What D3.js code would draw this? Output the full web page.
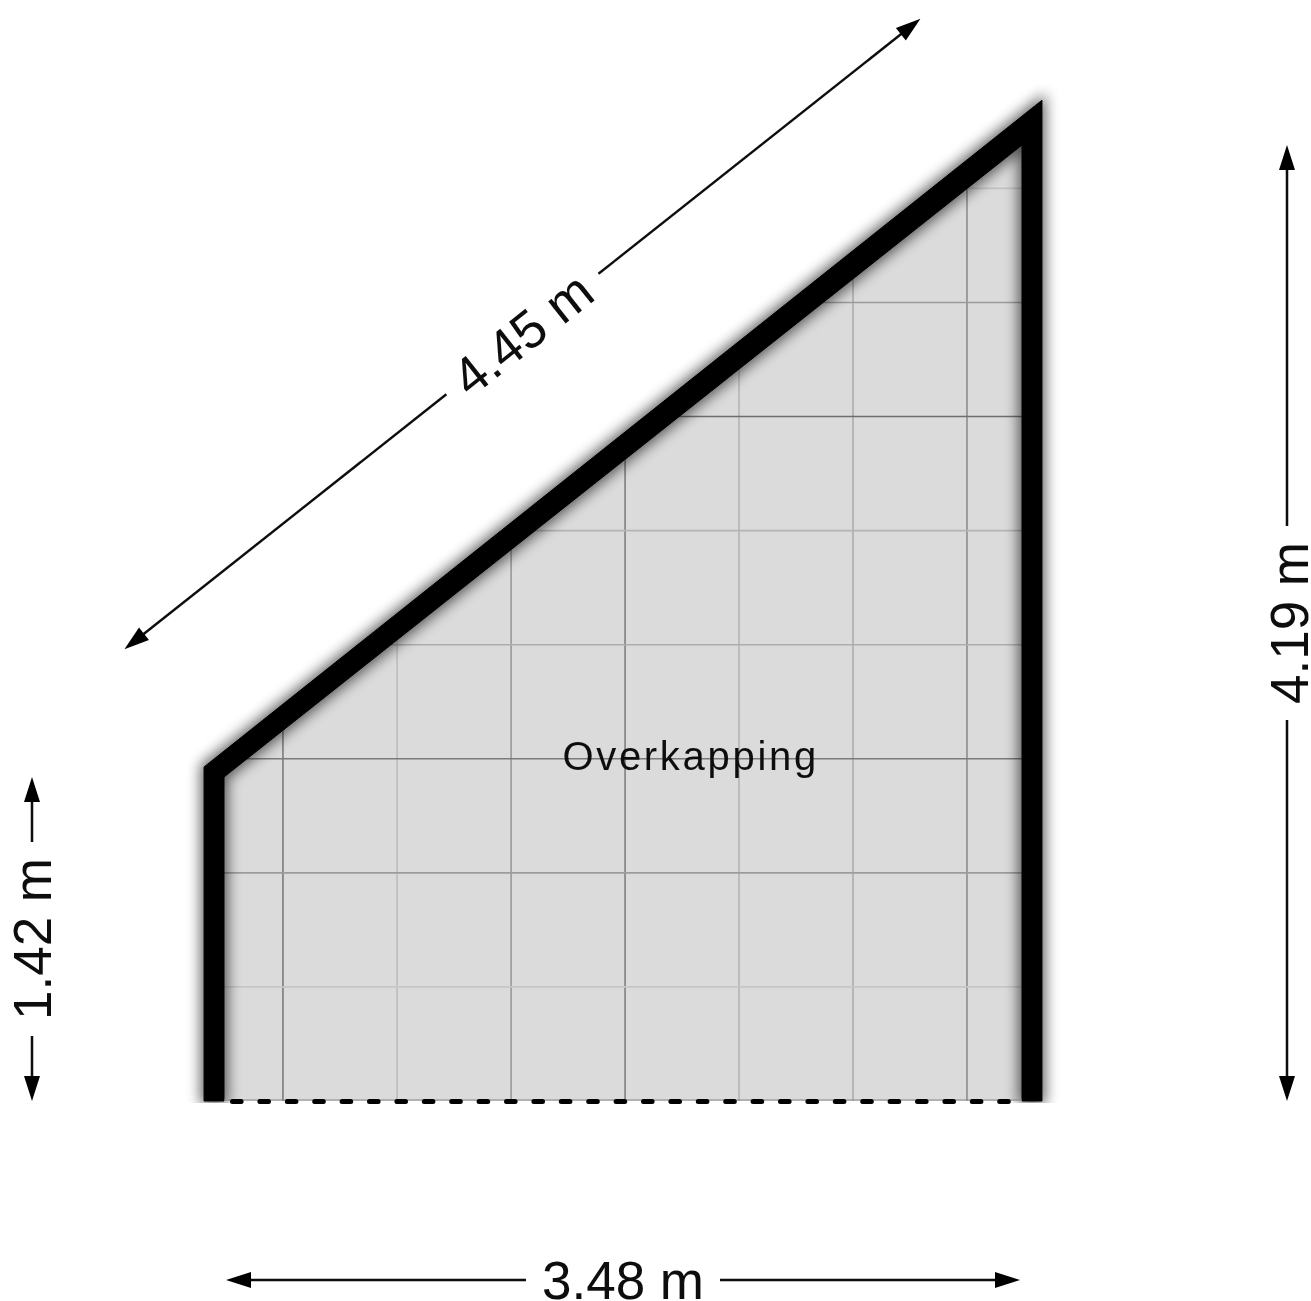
<!DOCTYPE html>
<html>
<head>
  <meta charset="utf-8">
  <script src="https://d3js.org/d3.v7.min.js"></script>
  <style>
    html, body { margin: 0; padding: 0; background: #fff; overflow: hidden; }
    text { font-family: "Liberation Sans", Arial, sans-serif; fill: #111; }
  </style>
</head>
<body>
  <div id="plan"></div>
  <script>
    // plan values, all in metres
    const roomWidth = 3.48;
    const lowHeight = 1.42;
    const highHeight = 4.19;
    const slopeLength = 4.45;
    const roomName = "Overkapping";
    const gridX = [0.257, 0.755, 1.252, 1.749, 2.246, 2.743, 3.24];
    const gridY = [0.5, 1, 1.5, 2, 2.5, 3, 3.5, 4];
    const wallOuter = [[-0.087, 0], [-0.087, 1.464], [3.567, 4.386], [3.567, 0]];
    const wallInner = [[3.48, 0], [3.48, 4.19], [0, 1.42], [0, 0]];

    // line greys, the scan has them uneven
    const gridXColor = ["#7b7b7b", "#bcbcbc", "#999999", "#7f7f7f", "#b4b4b4", "#ababab", "#8c8c8c"];
    const gridYColor = ["#c6c6c6", "#9c9c9c", "#7a7a7a", "#adadad", "#b4b4b4", "#6e6e6e", "#9a9a9a", "#c2c2c2"];

    const width = 1311, height = 1301;

    const x = d3.scaleLinear().domain([0, roomWidth]).range([224, 1022]);
    const y = d3.scaleLinear().domain([0, highHeight]).range([1101, 145]);
    const pt = d => [x(d[0]), y(d[1])];
    const line = d3.line().x(d => x(d[0])).y(d => y(d[1]));

    const root = d3.select("#plan").append("svg")
      .attr("width", width)
      .attr("height", height)
      .style("display", "block");

    const defs = root.append("defs");
    defs.append("filter")
      .attr("id", "wallShadow")
      .attr("x", "-10%").attr("y", "-10%")
      .attr("width", "120%").attr("height", "120%")
      .append("feGaussianBlur")
      .attr("stdDeviation", 7);
    // the source is a slightly soft scan
    defs.append("filter")
      .attr("id", "soft")
      .attr("filterUnits", "userSpaceOnUse")
      .attr("x", 0).attr("y", 0)
      .attr("width", width).attr("height", height)
      .append("feGaussianBlur")
      .attr("stdDeviation", 0.6);
    defs.append("clipPath")
      .attr("id", "roomClip")
      .append("path")
      .attr("d", line(wallInner) + "Z");
    // shadow stops at the floor line
    defs.append("clipPath")
      .attr("id", "shadowClip")
      .append("rect")
      .attr("width", width)
      .attr("height", y(0) + 2);

    const svg = root.append("g").attr("filter", "url(#soft)");

    // room floor
    svg.append("path")
      .attr("d", line(wallInner) + "Z")
      .attr("fill", "#dbdbdb");

    // grid
    const grid = svg.append("g")
      .attr("clip-path", "url(#roomClip)");
    grid.selectAll(".gv")
      .data(gridX)
      .enter().append("line")
      .attr("class", "gv")
      .attr("x1", d => x(d)).attr("x2", d => x(d))
      .attr("y1", y(0)).attr("y2", y(highHeight))
      .attr("stroke", (d, i) => gridXColor[i])
      .attr("stroke-width", 1.6);
    grid.selectAll(".gh")
      .data(gridY)
      .enter().append("line")
      .attr("class", "gh")
      .attr("x1", x(0)).attr("x2", x(roomWidth))
      .attr("y1", d => y(d)).attr("y2", d => y(d))
      .attr("stroke", (d, i) => gridYColor[i])
      .attr("stroke-width", 1.6);

    // wall outline, open at the bottom
    const wallPath = line(wallOuter.concat(wallInner)) + "Z";

    svg.append("g")
      .attr("clip-path", "url(#shadowClip)")
      .append("path")
      .attr("d", wallPath)
      .attr("fill", "#000")
      .attr("stroke", "#000")
      .attr("stroke-width", 7)
      .attr("opacity", 0.62)
      .attr("filter", "url(#wallShadow)");

    svg.append("path")
      .attr("d", wallPath)
      .attr("fill", "#000")
      .attr("stroke", "#000")
      .attr("stroke-width", 1)
      .attr("stroke-linejoin", "round");

    // open side of the room
    svg.append("line")
      .attr("x1", x(0)).attr("x2", x(roomWidth))
      .attr("y1", y(0) - 1).attr("y2", y(0) - 1)
      .attr("stroke", "#888")
      .attr("stroke-width", 1.2);
    svg.append("line")
      .attr("x1", 232.5).attr("x2", x(roomWidth))
      .attr("y1", y(0) + 0.5).attr("y2", y(0) + 0.5)
      .attr("stroke", "#000")
      .attr("stroke-width", 5)
      .attr("stroke-linecap", "round")
      .attr("stroke-dasharray", "8.6 18.8");

    svg.append("text")
      .attr("x", x(2.035))
      .attr("y", 770)
      .attr("text-anchor", "middle")
      .style("font-size", "40px")
      .style("letter-spacing", "2.7px")
      .text(roomName);

    // dimension arrows
    const slopeA = pt([0, lowHeight]), slopeB = pt([roomWidth, highHeight]);
    const slopeLen = Math.hypot(slopeB[0] - slopeA[0], slopeB[1] - slopeA[1]);
    const ux = (slopeB[0] - slopeA[0]) / slopeLen, uy = (slopeB[1] - slopeA[1]) / slopeLen;
    const slopePx = slopeLength * 228.2;
    const slopeMid = [(slopeA[0] + slopeB[0]) / 2 + uy * 162, (slopeA[1] + slopeB[1]) / 2 - ux * 162];

    const dims = [
      { label: roomWidth.toFixed(2) + " m", cx: (x(0) + x(roomWidth)) / 2, cy: 1280, len: x(roomWidth) - x(0) - 4, angle: 0 },
      { label: highHeight.toFixed(2) + " m", cx: 1287, cy: (y(0) + y(highHeight)) / 2, len: y(0) - y(highHeight), angle: -90 },
      { label: lowHeight.toFixed(2) + " m", cx: 32, cy: (y(0) + y(lowHeight)) / 2, len: y(0) - y(lowHeight), angle: -90 },
      { label: slopeLength.toFixed(2) + " m", cx: slopeMid[0], cy: slopeMid[1], len: slopePx, angle: Math.atan2(uy, ux) * 180 / Math.PI }
    ];

    const headLen = 25, headHalf = 8, textGap = 97;

    const dim = svg.selectAll(".dim")
      .data(dims)
      .enter().append("g")
      .attr("class", "dim")
      .attr("transform", d => "translate(" + d.cx + "," + d.cy + ") rotate(" + d.angle + ")");

    dim.append("line")
      .attr("x1", d => -d.len / 2 + headLen - 2).attr("x2", -textGap)
      .attr("stroke", "#111").attr("stroke-width", 2.4);
    dim.append("line")
      .attr("x1", textGap).attr("x2", d => d.len / 2 - headLen + 2)
      .attr("stroke", "#111").attr("stroke-width", 2.4);
    dim.append("path")
      .attr("d", d => "M" + (-d.len / 2) + ",0L" + (-d.len / 2 + headLen) + "," + (-headHalf) + "V" + headHalf + "Z")
      .attr("fill", "#000");
    dim.append("path")
      .attr("d", d => "M" + (d.len / 2) + ",0L" + (d.len / 2 - headLen) + "," + (-headHalf) + "V" + headHalf + "Z")
      .attr("fill", "#000");
    // the 4.19 label sits a little further out than its arrow
    dim.append("text")
      .attr("text-anchor", "middle")
      .attr("dy", (d, i) => i === 1 ? "0.39em" : "0.35em")
      .style("font-size", "53px")
      .text(d => d.label);
  </script>
</body>
</html>
